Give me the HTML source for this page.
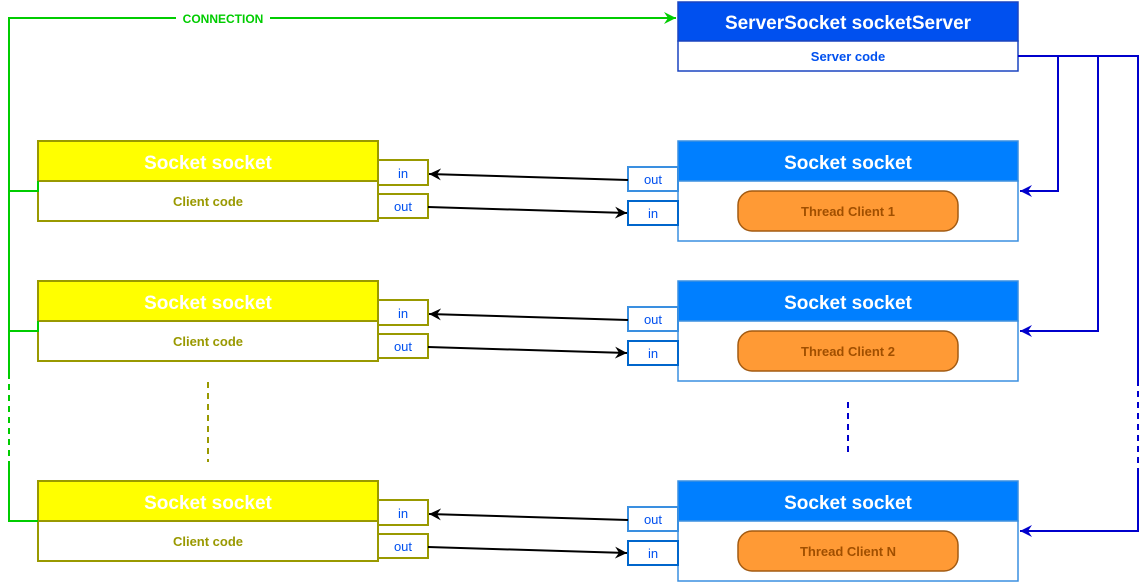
<!DOCTYPE html>
<html><head><meta charset="utf-8"><style>
html,body{margin:0;padding:0;background:#fff;width:1147px;height:582px;overflow:hidden}
svg{display:block;font-family:"Liberation Sans",Arial,sans-serif;font-weight:bold}
</style></head><body>
<svg width="1147" height="582" viewBox="0 0 1147 582" xmlns="http://www.w3.org/2000/svg">
<defs>
<marker id="ag" markerWidth="14" markerHeight="14" refX="12" refY="6" orient="auto" markerUnits="userSpaceOnUse"><path d="M0,0 L12,6 L0,12 L4,6 z" fill="#00CC00"/></marker>
<marker id="ab" markerWidth="14" markerHeight="14" refX="12" refY="6" orient="auto" markerUnits="userSpaceOnUse"><path d="M0,0 L12,6 L0,12 L4,6 z" fill="#0000CC"/></marker>
<marker id="ak" markerWidth="14" markerHeight="14" refX="12" refY="6" orient="auto" markerUnits="userSpaceOnUse"><path d="M0,0 L12,6 L0,12 L4,6 z" fill="#000"/></marker>
<g id="row">
  <rect x="38" y="141" width="340" height="40" fill="#FFFF00" stroke="#999900" stroke-width="2"/>
  <rect x="38" y="181" width="340" height="40" fill="#fff" stroke="#999900" stroke-width="2"/>
  <text x="208" y="169" fill="#fff" font-size="19" text-anchor="middle">Socket socket</text>
  <text x="208" y="206" fill="#999900" font-size="13" text-anchor="middle">Client code</text>
  <rect x="378" y="160" width="50" height="25" fill="#fff" stroke="#999900" stroke-width="2"/>
  <rect x="378" y="194" width="50" height="24" fill="#fff" stroke="#999900" stroke-width="2"/>
  <text x="403" y="178" fill="#0050EF" font-size="13" font-weight="normal" text-anchor="middle">in</text>
  <text x="403" y="211" fill="#0050EF" font-size="13" font-weight="normal" text-anchor="middle">out</text>
  <rect x="678" y="141" width="340" height="40" fill="#007FFF" stroke="#3A8FE0" stroke-width="1.5"/>
  <rect x="678" y="181" width="340" height="60" fill="#fff" stroke="#3A8FE0" stroke-width="1.5"/>
  <text x="848" y="169" fill="#fff" font-size="19" text-anchor="middle">Socket socket</text>
  <rect x="628" y="167" width="50" height="24" fill="#fff" stroke="#3A8FE0" stroke-width="2"/>
  <rect x="628" y="201" width="50" height="24" fill="#fff" stroke="#0066CC" stroke-width="2"/>
  <text x="653" y="184" fill="#0050EF" font-size="13" font-weight="normal" text-anchor="middle">out</text>
  <text x="653" y="218" fill="#0050EF" font-size="13" font-weight="normal" text-anchor="middle">in</text>
  <line x1="628" y1="180" x2="429" y2="174" stroke="#000" stroke-width="2" marker-end="url(#ak)"/>
  <line x1="428" y1="207" x2="627" y2="213" stroke="#000" stroke-width="2" marker-end="url(#ak)"/>
</g>
</defs>
<!-- server -->
<rect x="678" y="2" width="340" height="39" fill="#0050EF" stroke="#1A44C0" stroke-width="1.5"/>
<rect x="678" y="41" width="340" height="30" fill="#fff" stroke="#1A44C0" stroke-width="1.5"/>
<text x="848" y="29" fill="#fff" font-size="19" text-anchor="middle">ServerSocket socketServer</text>
<text x="848" y="61" fill="#0050EF" font-size="13" text-anchor="middle">Server code</text>

<use href="#row"/>
<use href="#row" y="140"/>
<use href="#row" y="340"/>

<rect x="738" y="191" width="220" height="40" rx="14" fill="#FF9A35" stroke="#A35B12" stroke-width="1.5"/>
<text x="848" y="216" fill="#A04F00" font-size="13" text-anchor="middle">Thread Client 1</text>
<rect x="738" y="331" width="220" height="40" rx="14" fill="#FF9A35" stroke="#A35B12" stroke-width="1.5"/>
<text x="848" y="356" fill="#A04F00" font-size="13" text-anchor="middle">Thread Client 2</text>
<rect x="738" y="531" width="220" height="40" rx="14" fill="#FF9A35" stroke="#A35B12" stroke-width="1.5"/>
<text x="848" y="556" fill="#A04F00" font-size="13" text-anchor="middle">Thread Client N</text>

<!-- green connection -->
<g fill="none" stroke="#00CC00" stroke-width="2">
<path d="M600,18 L9,18 L9,373"/>
<path d="M9,373 L9,467" stroke-dasharray="6,5"/>
<path d="M9,467 L9,521 L38,521"/>
<path d="M9,191 L38,191 L38,181"/>
<path d="M9,331 L38,331 L38,321"/>
<line x1="600" y1="18" x2="676" y2="18" marker-end="url(#ag)"/>
</g>
<rect x="176" y="10" width="94" height="16" fill="#fff"/>
<text x="223" y="23" fill="#00CC00" font-size="12" text-anchor="middle">CONNECTION</text>

<!-- blue -->
<g fill="none" stroke="#0000CC" stroke-width="2">
<path d="M1018,56 L1138,56 L1138,380"/>
<path d="M1138,380 L1138,472" stroke-dasharray="6,5"/>
<path d="M1138,472 L1138,531 L1020,531" marker-end="url(#ab)"/>
<path d="M1058,56 L1058,191 L1020,191" marker-end="url(#ab)"/>
<path d="M1098,56 L1098,331 L1020,331" marker-end="url(#ab)"/>
</g>
<line x1="208" y1="382" x2="208" y2="462" stroke="#999900" stroke-width="2" stroke-dasharray="6,5"/>
<line x1="848" y1="402" x2="848" y2="457" stroke="#0000CC" stroke-width="2" stroke-dasharray="6,5"/>
</svg>
</body></html>
